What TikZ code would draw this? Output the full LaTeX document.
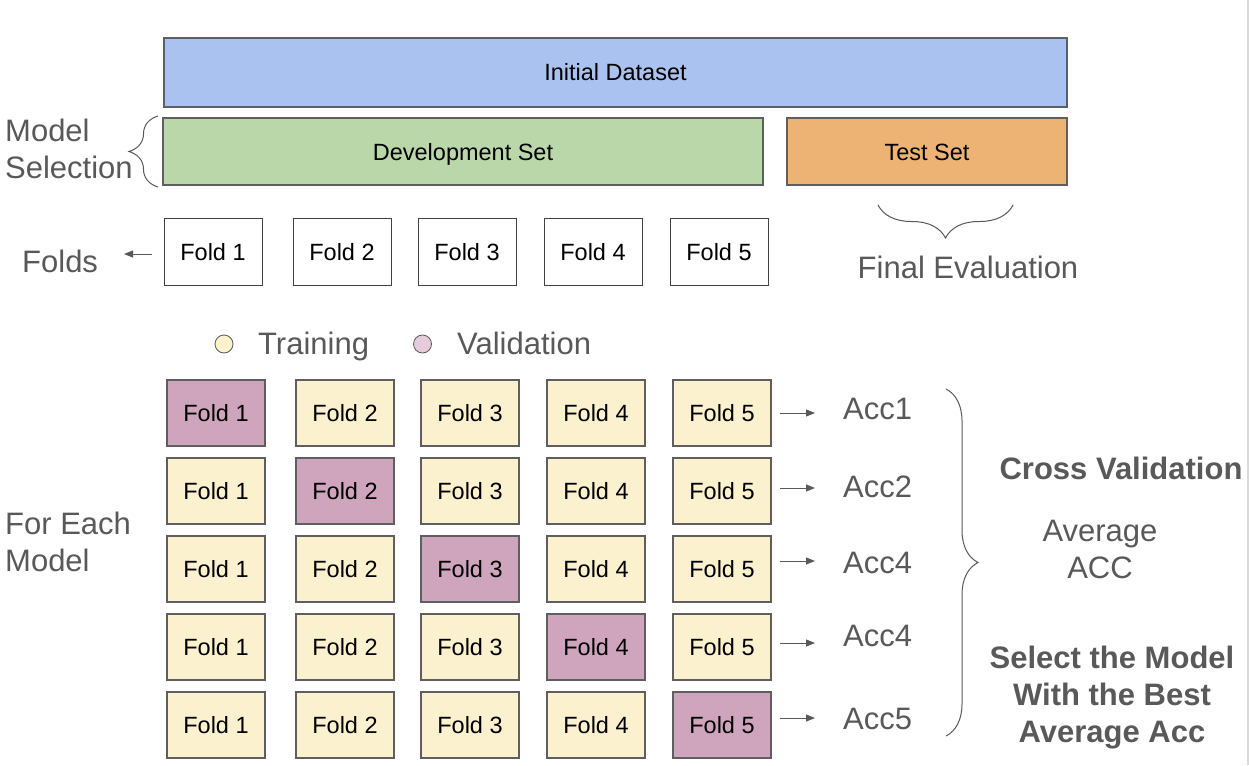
\documentclass[tikz,border=0pt]{standalone}
\usepackage{fontspec}
\setmainfont{Liberation Sans}
\usetikzlibrary{decorations.pathreplacing,arrows.meta}
\definecolor{labgray}{HTML}{595959}
\definecolor{boxline}{HTML}{5F5F5F}
\definecolor{initc}{HTML}{A9C2EF}
\definecolor{devc}{HTML}{B9D7A9}
\definecolor{testc}{HTML}{ECB374}
\definecolor{trainc}{HTML}{FCF1CF}
\definecolor{valc}{HTML}{CFA5BD}
\definecolor{legtr}{HTML}{FFF2CC}
\definecolor{legval}{HTML}{E6CCDA}
\definecolor{edgec}{HTML}{D9D9D9}
\tikzset{
  boxtext/.style={font=\fontsize{23.5}{28}\selectfont, text height=17pt, text depth=0pt},
  bigbox/.style={draw=boxline, line width=1.5pt, inner sep=0pt, boxtext},
  foldbox/.style={draw=black!75, line width=0.9pt, fill=white, minimum width=98pt, minimum height=67pt, inner sep=0pt, boxtext},
  cell/.style={draw=boxline, line width=1.2pt, minimum width=98pt, minimum height=66pt, inner sep=0pt, boxtext},
  trn/.style={cell, fill=trainc},
  val/.style={cell, fill=valc},
  lbl/.style={text=labgray, font=\fontsize{31}{37}\selectfont, inner sep=0pt},
  blbl/.style={text=labgray, font=\fontsize{31}{37}\selectfont\bfseries, inner sep=0pt},
  arr/.style={draw=labgray, line width=1pt, -{Triangle[length=9pt,width=7pt]}},
  brc/.style={draw=labgray, line width=1pt, decorate, decoration={brace, amplitude=#1}},
  dot/.style={circle, draw=labgray, line width=0.8pt, minimum size=18pt, inner sep=0pt}
}
\begin{document}
\begin{tikzpicture}[x=1pt,y=-1pt]
\useasboundingbox (0,0) rectangle (1249,765);
\fill[white] (0,0) rectangle (1249,765);
\draw[edgec, line width=2pt] (1248,0) -- (1248,765);

% top boxes
\node[bigbox, fill=initc, minimum width=903pt, minimum height=69pt] (init) at (615.5,72.5) {Initial Dataset};
\node[bigbox, fill=devc, minimum width=600pt, minimum height=67pt] (dev) at (463,151.5) {Development Set};
\node[bigbox, fill=testc, minimum width=280pt, minimum height=67pt] (test) at (927,151.5) {Test Set};

% model selection
\node[lbl, anchor=base west, align=left] (ms) at (5,178) {Model\\Selection};
\coordinate (msb) at (158,187);
\coordinate (mst) at (158,116);
\draw[brc=29pt] (msb) -- (mst);

% folds row
\foreach \c/\x in {1/213,2/342,3/467,4/593,5/719}{
  \node[foldbox] (f\c) at (\x,251.5) {Fold \c};
}
\node[lbl, anchor=base west] (folds) at (22,272) {Folds};
\coordinate (fa) at (124,254);
\draw[arr] (f1.west |- fa) ++(-12,0) -- (fa);

% final evaluation
\coordinate (fer) at (1013,205);
\coordinate (fel) at (878,205);
\draw[brc=33pt] (fer) -- (fel);
\node[lbl, anchor=base] (fe) at (968,278) {Final Evaluation};

% legend
\node[dot, fill=legtr] (ltr) at (224,344) {};
\node[lbl, anchor=base west] (ltrt) at (258,354) {Training};
\node[dot, fill=legval] (lval) at (422.5,344) {};
\node[lbl, anchor=base west] (lvalt) at (457,354) {Validation};

% grid
\foreach \r/\y in {1/413,2/491,3/569,4/647,5/725}{
  \foreach \c/\x in {1/216,2/345,3/470,4/596,5/722}{
    \ifnum\r=\c
      \node[val] (g\r\c) at (\x,\y) {Fold \c};
    \else
      \node[trn] (g\r\c) at (\x,\y) {Fold \c};
    \fi
  }
}

% accuracies
\foreach \r/\t/\b/\ay in {1/Acc1/419/413,2/Acc2/497/488,3/Acc4/573/561,4/Acc4/646/643,5/Acc5/729/718}{
  \node[lbl, anchor=base west] (a\r) at (843,\b) {\t};
  \coordinate (s\r) at (780,\ay);
  \coordinate (e\r) at (815,\ay);
  \draw[arr] (s\r) -- (e\r);
}

\node[lbl, anchor=base west, align=left] (fem) at (5,571) {For Each\\Model};

% big brace
\coordinate (bt) at (946,389);
\coordinate (bb) at (946,736);
\draw[brc=32pt] (bt) -- (bb);

\node[blbl, anchor=base] (cv) at (1121,479) {Cross Validation};
\node[lbl, anchor=base, align=center] (avg) at (1100,578) {Average\\ACC};
\node[blbl, anchor=base, align=center] (sel) at (1112,742) {Select the Model\\With the Best\\Average Acc};
\end{tikzpicture}
\end{document}
